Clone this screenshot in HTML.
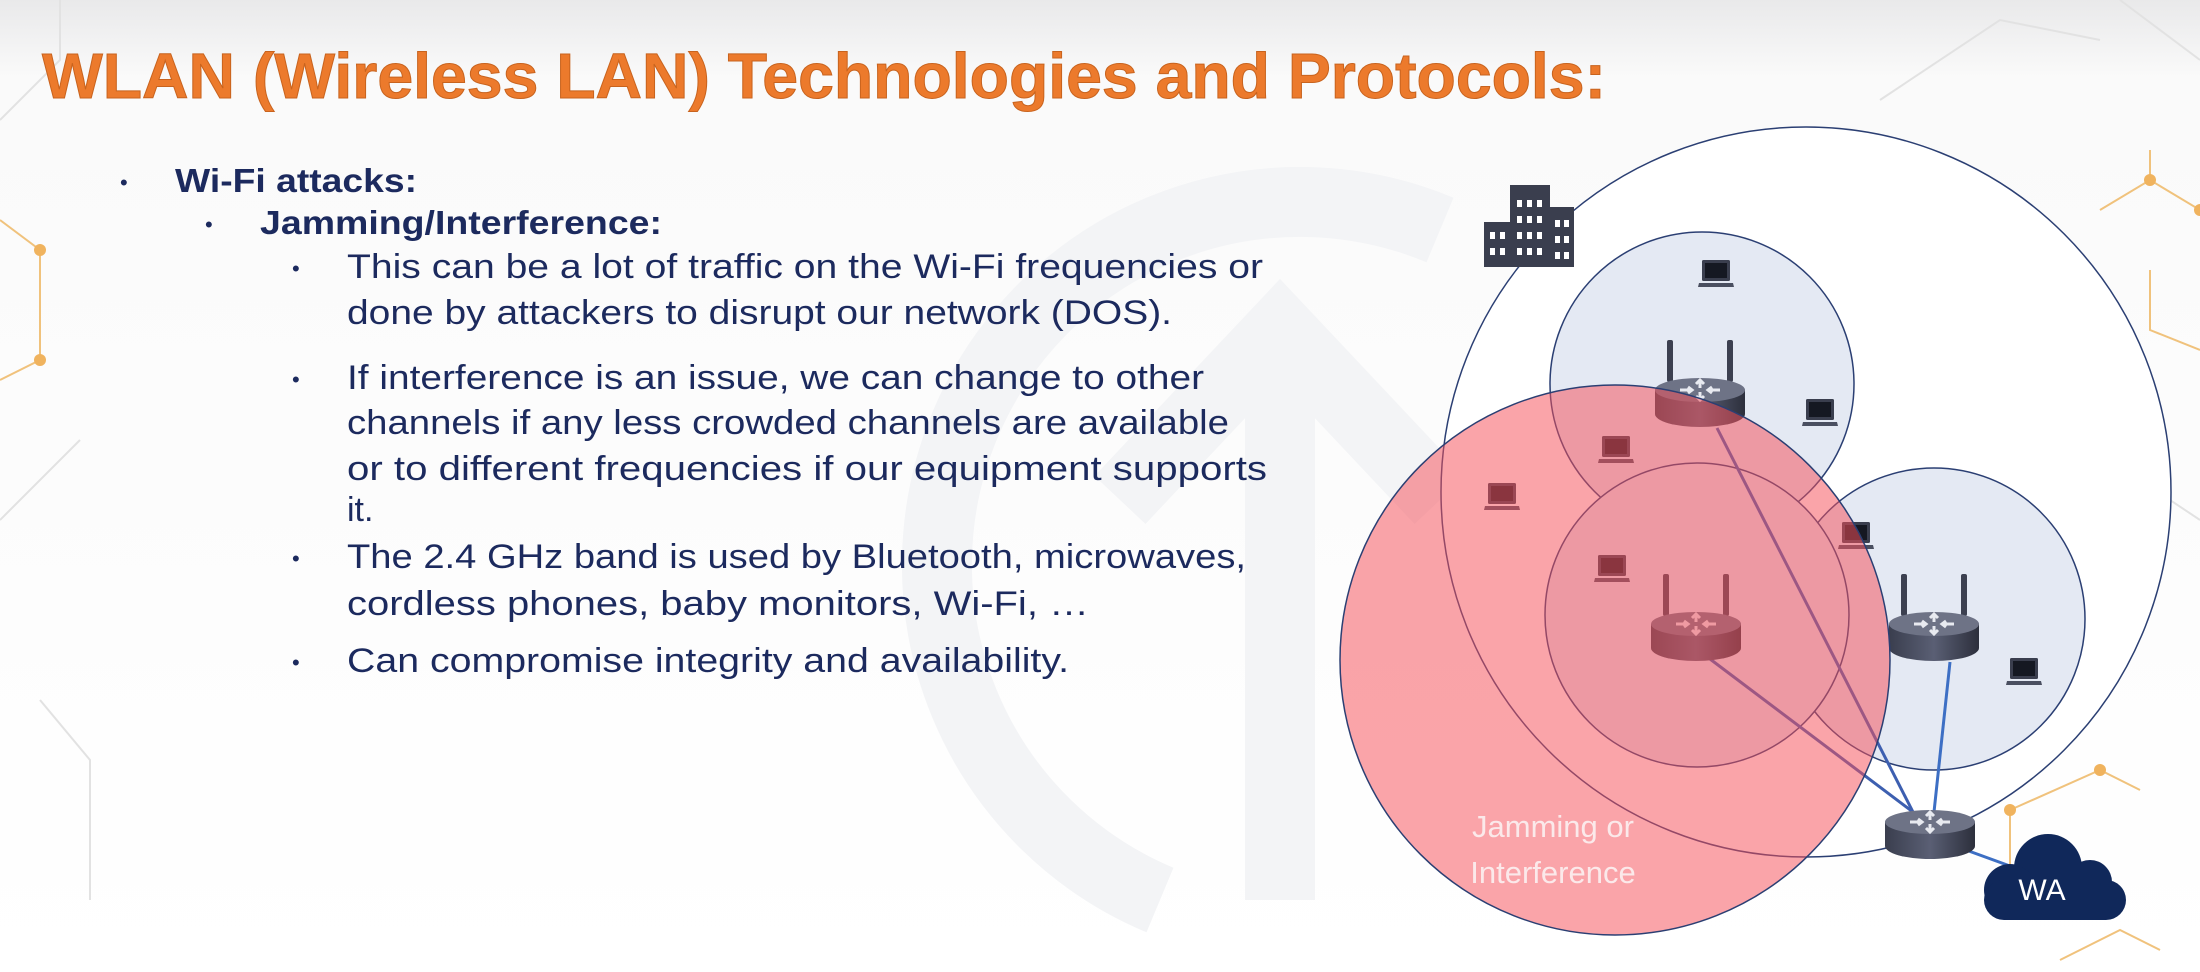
<!DOCTYPE html>
<html><head><meta charset="utf-8"><style>
html,body{margin:0;padding:0;background:#fff;}
svg{display:block;}
</style></head><body>
<svg width="2200" height="972" viewBox="0 0 2200 972" xmlns="http://www.w3.org/2000/svg">
<defs>
<linearGradient id="bg" x1="0" y1="0" x2="0" y2="1">
<stop offset="0" stop-color="#e9e9ea"/><stop offset="0.08" stop-color="#fafafa"/><stop offset="1" stop-color="#ffffff"/>
</linearGradient>
<linearGradient id="rbody" x1="0" y1="0" x2="1" y2="0">
<stop offset="0" stop-color="#3a3e4e"/><stop offset="0.5" stop-color="#5a5f74"/><stop offset="1" stop-color="#2c2f3c"/>
</linearGradient>
<g id="router">
<rect x="-3" y="-50" width="6" height="42" rx="2" fill="#3c4050"/>
<rect x="-3" y="-50" width="6" height="42" rx="2" fill="#3c4050" transform="translate(60,0)"/>
<path d="M-15,0 L-15,24 A45,13 0 0 0 75,24 L75,0 Z" fill="url(#rbody)"/>
<ellipse cx="30" cy="0" rx="45" ry="12" fill="#6e7386"/>
<g stroke="#e8eaf0" stroke-width="3" fill="none">
<path d="M30,-9 L30,-2 M26,-6 L30,-10 L34,-6"/>
<path d="M30,9 L30,2 M26,6 L30,10 L34,6"/>
<path d="M10,0 L22,0 M18,-3 L22,0 L18,3"/>
<path d="M50,0 L38,0 M42,-3 L38,0 L42,3"/>
</g>
</g>
<g id="laptop">
<rect x="0" y="0" width="28" height="21" rx="1.5" fill="#3a3e4e"/>
<rect x="3" y="3" width="22" height="15" fill="#151822"/>
<path d="M-3,23 L31,23 L32,27 L-4,27 Z" fill="#4a4f60"/>
</g>
</defs>
<rect width="2200" height="972" fill="url(#bg)"/>
<!-- faint background network -->
<g stroke="#e2e2e2" stroke-width="2" fill="none">
<path d="M0,120 L60,60 L60,0"/><path d="M0,520 L80,440"/><path d="M40,700 L90,760 L90,900"/>
<path d="M1880,100 L2000,20 L2100,40"/><path d="M2120,0 L2200,60"/><path d="M2170,500 L2200,520"/>
</g>
<g stroke="#f0c27c" stroke-width="2" fill="none">
<path d="M0,220 L40,250 L40,360 L0,380"/>
<path d="M2100,210 L2150,180 L2200,210 M2150,180 L2150,150"/>
<path d="M2150,270 L2150,330 L2200,350"/>
<path d="M2010,810 L2010,870 L2060,900 M2010,810 L2100,770 L2140,790"/>
<path d="M2060,960 L2120,930 L2160,950"/>
</g>
<g fill="#f0b35e"><circle cx="40" cy="250" r="6"/><circle cx="40" cy="360" r="6"/><circle cx="2150" cy="180" r="6"/><circle cx="2200" cy="210" r="6"/><circle cx="2010" cy="810" r="6"/><circle cx="2100" cy="770" r="6"/></g>
<!-- faint logo arc -->
<path d="M1160,900 A330,330 0 1 1 1440,230" fill="none" stroke="#f3f4f6" stroke-width="70"/>
<path d="M1120,500 L1280,330 L1440,500 M1280,340 L1280,900" fill="none" stroke="#f3f4f6" stroke-width="70"/>
<!-- title -->
<text x="42" y="98" font-family="Liberation Sans, sans-serif" font-weight="bold" font-size="64" fill="#ec7a2c" stroke="#c8631e" stroke-width="1" textLength="1564" lengthAdjust="spacingAndGlyphs">WLAN (Wireless LAN) Technologies and Protocols:</text>
<!-- bullets -->
<g font-family="Liberation Sans, sans-serif" fill="#1c2a5e">
<text x="120" y="190" font-size="22">•</text>
<text x="175" y="192" font-size="33" font-weight="bold" textLength="242" lengthAdjust="spacingAndGlyphs">Wi-Fi attacks:</text>
<text x="205" y="232" font-size="22">•</text>
<text x="260" y="234" font-size="33" font-weight="bold" textLength="402" lengthAdjust="spacingAndGlyphs">Jamming/Interference:</text>
<g font-size="34">
<text x="292" y="276" font-size="22">•</text>
<text x="347" y="278" textLength="916" lengthAdjust="spacingAndGlyphs">This can be a lot of traffic on the Wi-Fi frequencies or</text>
<text x="347" y="324" textLength="825" lengthAdjust="spacingAndGlyphs">done by attackers to disrupt our network (DOS).</text>
<text x="292" y="387" font-size="22">•</text>
<text x="347" y="389" textLength="857" lengthAdjust="spacingAndGlyphs">If interference is an issue, we can change to other</text>
<text x="347" y="434" textLength="882" lengthAdjust="spacingAndGlyphs">channels if any less crowded channels are available</text>
<text x="347" y="480" textLength="920" lengthAdjust="spacingAndGlyphs">or to different frequencies if our equipment supports</text>
<text x="347" y="521">it.</text>
<text x="292" y="566" font-size="22">•</text>
<text x="347" y="568" textLength="899" lengthAdjust="spacingAndGlyphs">The 2.4 GHz band is used by Bluetooth, microwaves,</text>
<text x="347" y="615" textLength="742" lengthAdjust="spacingAndGlyphs">cordless phones, baby monitors, Wi-Fi,  …</text>
<text x="292" y="670" font-size="22">•</text>
<text x="347" y="672" textLength="722" lengthAdjust="spacingAndGlyphs">Can compromise integrity and availability.</text>
</g>
</g>
<!-- diagram -->
<circle cx="1806" cy="492" r="365" fill="#ffffff" stroke="#2b3f73" stroke-width="1.5"/>
<circle cx="1702" cy="384" r="152" fill="#e4e9f3" stroke="#2b3f73" stroke-width="1.5"/>
<circle cx="1934" cy="619" r="151" fill="#e4e9f3" stroke="#2b3f73" stroke-width="1.5"/>
<circle cx="1697" cy="615" r="152" fill="#e4e9f3" stroke="#2b3f73" stroke-width="1.5"/>
<!-- building -->
<g>
<rect x="1484" y="222" width="30" height="45" fill="#3a3e4e"/>
<rect x="1510" y="185" width="40" height="82" fill="#3a3e4e"/>
<rect x="1548" y="207" width="26" height="60" fill="#3a3e4e"/>
<g fill="#fff">
<rect x="1490" y="232" width="5" height="7"/><rect x="1500" y="232" width="5" height="7"/><rect x="1490" y="248" width="5" height="7"/><rect x="1500" y="248" width="5" height="7"/>
<rect x="1517" y="200" width="5" height="7"/><rect x="1527" y="200" width="5" height="7"/><rect x="1537" y="200" width="5" height="7"/>
<rect x="1517" y="216" width="5" height="7"/><rect x="1527" y="216" width="5" height="7"/><rect x="1537" y="216" width="5" height="7"/>
<rect x="1517" y="232" width="5" height="7"/><rect x="1527" y="232" width="5" height="7"/><rect x="1537" y="232" width="5" height="7"/>
<rect x="1517" y="248" width="5" height="7"/><rect x="1527" y="248" width="5" height="7"/><rect x="1537" y="248" width="5" height="7"/>
<rect x="1555" y="220" width="5" height="7"/><rect x="1564" y="220" width="5" height="7"/><rect x="1555" y="236" width="5" height="7"/><rect x="1564" y="236" width="5" height="7"/><rect x="1555" y="252" width="5" height="7"/><rect x="1564" y="252" width="5" height="7"/>
</g>
</g>
<!-- links -->
<g stroke-width="3" fill="none">
<line x1="1717" y1="428" x2="1913" y2="812" stroke="#3d5fb0"/>
<line x1="1710" y1="659" x2="1913" y2="812" stroke="#3d5fb0"/>
<line x1="1950" y1="662" x2="1934" y2="812" stroke="#3d6fc4"/>
<line x1="1966" y1="850" x2="2010" y2="866" stroke="#3d6fc4"/>
</g>
<!-- laptops -->
<use href="#laptop" x="1702" y="260"/>
<use href="#laptop" x="1806" y="399"/>
<use href="#laptop" x="1602" y="436"/>
<use href="#laptop" x="1488" y="483"/>
<use href="#laptop" x="1842" y="522"/>
<use href="#laptop" x="1598" y="555"/>
<use href="#laptop" x="2010" y="658"/>
<!-- routers -->
<use href="#router" x="1670" y="390"/>
<use href="#router" x="1666" y="624"/>
<use href="#router" x="1904" y="624"/>
<g transform="translate(1900,822)">
<path d="M-15,0 L-15,24 A45,13 0 0 0 75,24 L75,0 Z" fill="url(#rbody)"/>
<ellipse cx="30" cy="0" rx="45" ry="12" fill="#6e7386"/>
<g stroke="#e8eaf0" stroke-width="3" fill="none">
<path d="M30,-9 L30,-2 M26,-6 L30,-10 L34,-6"/><path d="M30,9 L30,2 M26,6 L30,10 L34,6"/>
<path d="M10,0 L22,0 M18,-3 L22,0 L18,3"/><path d="M50,0 L38,0 M42,-3 L38,0 L42,3"/>
</g>
</g>
<!-- red jamming circle -->
<circle cx="1615" cy="660" r="275" fill="rgb(245,80,90)" fill-opacity="0.52" stroke="#2b3f73" stroke-width="1.5"/>
<g font-family="Liberation Sans, sans-serif" font-size="31" fill="#fbe9ea" text-anchor="middle">
<text x="1553" y="837">Jamming or</text>
<text x="1553" y="883">Interference</text>
</g>
<!-- cloud -->
<g fill="#10285a">
<circle cx="2048" cy="868" r="34"/>
<circle cx="2090" cy="882" r="22"/>
<circle cx="2010" cy="890" r="26"/>
<rect x="1984" y="880" width="142" height="40" rx="20"/>
</g>
<text x="2042" y="900" font-family="Liberation Sans, sans-serif" font-size="30" fill="#ffffff" text-anchor="middle">WA</text>
</svg>
</body></html>
